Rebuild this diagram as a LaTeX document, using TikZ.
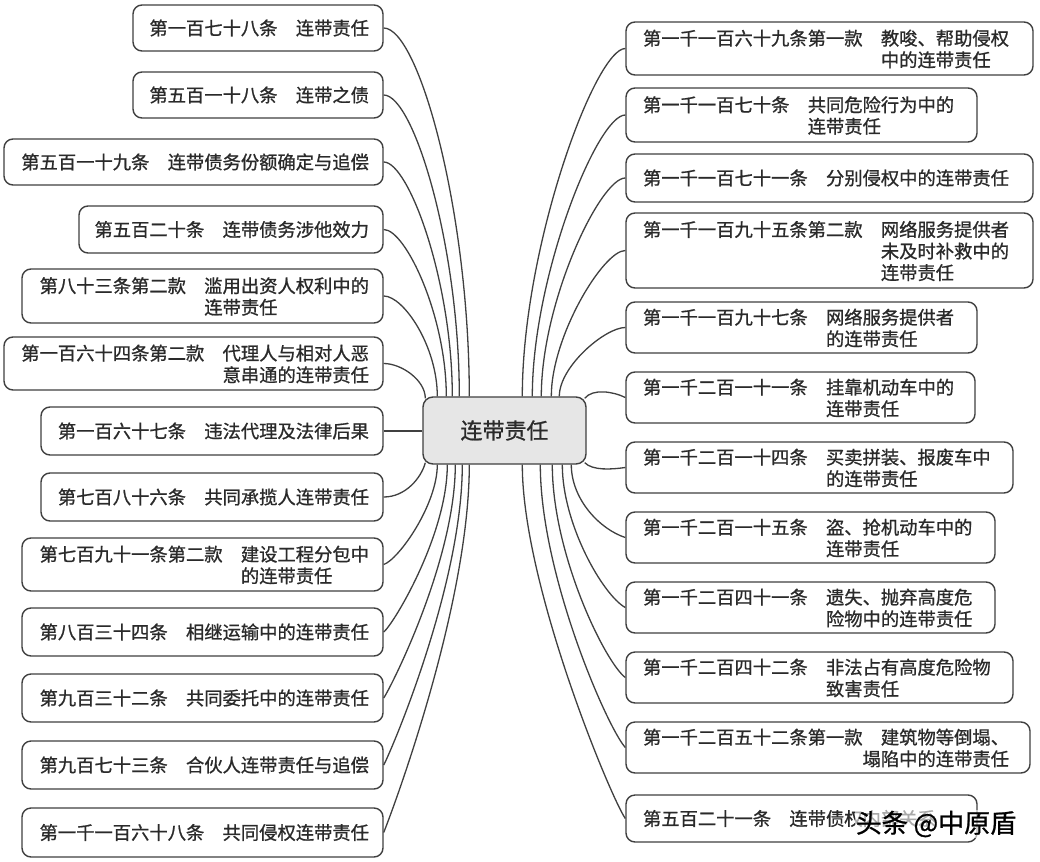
\documentclass[tikz,border=0pt]{standalone}
\usepackage{fontspec}
\setmainfont{Noto Sans CJK SC}[FakeBold=0.9]
\definecolor{txt}{HTML}{2A2A2A}
\definecolor{ln}{HTML}{404040}
\definecolor{cfill}{HTML}{E6E6E6}
\newcommand\rs[1]{\raisebox{-2.8pt}[\height][\depth]{#1}}
\newcommand\one[2]{#1\hspace{1em}#2}
\newcommand\two[3]{\rs{\begin{tabular}{@{}l@{\hspace{1em}}l@{}}#1&#2\\&#3\end{tabular}}}
\newcommand\three[4]{\rs{\begin{tabular}{@{}l@{\hspace{1em}}l@{}}#1&#2\\&#3\\&#4\end{tabular}}}
% left item box: name, x1, y1, x2, y2, content (text right aligned)
\newcommand\mkL[6]{%
  \pgfmathsetmacro\bw{#4-#2}\pgfmathsetmacro\bh{#5-#3}%
  \pgfmathsetmacro\bx{(#2+#4)/2}\pgfmathsetmacro\by{(#3+#5)/2}%
  \pgfmathsetmacro\tw{#4-#2-28}%
  \node[itembox, minimum width=\bw pt, minimum height=\bh pt] (#1) at (\bx,\by) {\makebox[\tw pt][r]{#6}};}
% right item box: text left aligned
\newcommand\mkR[6]{%
  \pgfmathsetmacro\bw{#4-#2}\pgfmathsetmacro\bh{#5-#3}%
  \pgfmathsetmacro\bx{(#2+#4)/2}\pgfmathsetmacro\by{(#3+#5)/2}%
  \pgfmathsetmacro\tw{#4-#2-34}%
  \node[itembox, minimum width=\bw pt, minimum height=\bh pt] (#1) at (\bx,\by) {\makebox[\tw pt][l]{#6}};}
\begin{document}
\begin{tikzpicture}[x=1pt,y=-1pt,
  itembox/.style={draw=ln, line width=1.4pt, rounded corners=9pt, fill=white, inner sep=0pt,
    text=txt, font=\fontsize{18.3}{20.5}\selectfont},
  centerbox/.style={draw=ln, line width=1.4pt, rounded corners=10pt, fill=cfill, inner sep=0pt,
    text=txt, font=\fontsize{22}{26}\selectfont},
  conn/.style={draw=ln, line width=1.3pt},
  wmark/.style={text=black, font=\fontsize{26}{30}\selectfont, fill=white, fill opacity=0.6, text opacity=1, inner sep=1pt}]
\useasboundingbox (0,0) rectangle (1040,861);
\fill[white] (0,0) rectangle (1040,861);

% centre
\node[centerbox, minimum width=163pt, minimum height=67pt] (c) at (504.5,430.5) {连带责任};

% left boxes
\mkL{L1}{133}{5}{383}{51}{\one{第一百七十八条}{连带责任}}
\mkL{L2}{133}{72}{383}{118}{\one{第五百一十八条}{连带之债}}
\mkL{L3}{4}{139}{383}{185}{\one{第五百一十九条}{连带债务份额确定与追偿}}
\mkL{L4}{79}{206}{383}{253}{\one{第五百二十条}{连带债务涉他效力}}
\mkL{L5}{22}{269}{383}{323}{\two{第八十三条第二款}{滥用出资人权利中的}{连带责任}}
\mkL{L6}{4}{337}{383}{390}{\two{第一百六十四条第二款}{代理人与相对人恶}{意串通的连带责任}}
\mkL{L7}{41}{407}{383}{455}{\one{第一百六十七条}{违法代理及法律后果}}
\mkL{L8}{41}{473}{383}{521}{\one{第七百八十六条}{共同承揽人连带责任}}
\mkL{L9}{22}{538}{383}{591}{\two{第七百九十一条第二款}{建设工程分包中}{的连带责任}}
\mkL{L10}{22}{608}{383}{656}{\one{第八百三十四条}{相继运输中的连带责任}}
\mkL{L11}{22}{674}{383}{722}{\one{第九百三十二条}{共同委托中的连带责任}}
\mkL{L12}{22}{741}{383}{789}{\one{第九百七十三条}{合伙人连带责任与追偿}}
\mkL{L13}{22}{808}{383}{857}{\one{第一千一百六十八条}{共同侵权连带责任}}

% right boxes
\mkR{R1}{626}{22}{1033}{75}{\two{第一千一百六十九条第一款}{教唆、帮助侵权}{中的连带责任}}
\mkR{R2}{626}{88}{977}{142}{\two{第一千一百七十条}{共同危险行为中的}{连带责任}}
\mkR{R3}{626}{154}{1033}{202}{\one{第一千一百七十一条}{分别侵权中的连带责任}}
\mkR{R4}{626}{213}{1033}{288}{\three{第一千一百九十五条第二款}{网络服务提供者}{未及时补救中的}{连带责任}}
\mkR{R5}{626}{302}{977}{353}{\two{第一千一百九十七条}{网络服务提供者}{的连带责任}}
\mkR{R6}{626}{372}{975}{423}{\two{第一千二百一十一条}{挂靠机动车中的}{连带责任}}
\mkR{R7}{626}{442}{1013}{493}{\two{第一千二百一十四条}{买卖拼装、报废车中}{的连带责任}}
\mkR{R8}{626}{512}{995}{563}{\two{第一千二百一十五条}{盗、抢机动车中的}{连带责任}}
\mkR{R9}{626}{582}{995}{633}{\two{第一千二百四十一条}{遗失、抛弃高度危}{险物中的连带责任}}
\mkR{R10}{626}{652}{1013}{703}{\two{第一千二百四十二条}{非法占有高度危险物}{致害责任}}
\mkR{R11}{626}{722}{1030}{773}{\rs{\begin{tabular}{@{}r@{}}第一千二百五十二条第一款\hspace{1em}建筑物等倒塌、\\塌陷中的连带责任\end{tabular}}}
\mkR{R12}{626}{795}{977}{842}{\one{第五百二十一条}{连带债权内部关系}}

% left connectors (top)
\draw[conn] (L1.east) .. controls +(35,0) and +(0,-185) .. ([xshift=47pt]c.north west);
\draw[conn] (L2.east) .. controls +(30,0) and +(0,-150) .. ([xshift=37pt]c.north west);
\draw[conn] (L3.east) .. controls +(25,0) and +(0,-115) .. ([xshift=30pt]c.north west);
\draw[conn] (L4.east) .. controls +(22,0) and +(0,-80) .. ([xshift=24pt]c.north west);
\draw[conn] (L5.east) .. controls +(20,0) and +(0,-50) .. ([xshift=15pt]c.north west);
\draw[conn] (L6.east) .. controls +(18,0) and +(0,-18) .. ([xshift=3pt,yshift=-2pt]c.north west);
\draw[conn] (L7.east) -- (L7.east -| c.west);
% left connectors (bottom)
\draw[conn] (L8.east) .. controls +(22,0) and +(-4,15) .. ([xshift=3pt,yshift=2pt]c.south west);
\draw[conn] (L9.east) .. controls +(15,-5) and +(0,40) .. ([xshift=15pt]c.south west);
\draw[conn] (L10.east) .. controls +(10,-8) and +(0,70) .. ([xshift=25pt]c.south west);
\draw[conn] (L11.east) .. controls +(8,-12) and +(0,95) .. ([xshift=33pt]c.south west);
\draw[conn] (L12.east) .. controls +(8,-15) and +(0,120) .. ([xshift=40pt]c.south west);
\draw[conn] (L13.east) .. controls +(10,-25) and +(0,140) .. ([xshift=47pt]c.south west);

% right connectors (top)
\draw[conn] ([xshift=100pt]c.north west) .. controls +(0,-150) and +(-30,0) .. (R1.west);
\draw[conn] ([xshift=110pt]c.north west) .. controls +(0,-120) and +(-28,0) .. (R2.west);
\draw[conn] ([xshift=119pt]c.north west) .. controls +(0,-95) and +(-25,0) .. (R3.west);
\draw[conn] ([xshift=129pt]c.north west) .. controls +(0,-60) and +(-22,0) .. (R4.west);
\draw[conn] ([xshift=137pt]c.north west) .. controls +(0,-30) and +(-20,0) .. (R5.west);
\draw[conn] ([xshift=-2pt,yshift=-2pt]c.north east) .. controls +(8,-10) and +(-12,-6) .. (R6.west);
% right connectors (bottom)
\draw[conn] ([xshift=-2pt,yshift=2pt]c.south east) .. controls +(8,8) and +(-14,2) .. (R7.west);
\draw[conn] ([xshift=149pt]c.south west) .. controls +(0,35) and +(-25,-8) .. (R8.west);
\draw[conn] ([xshift=140pt]c.south west) .. controls +(0,60) and +(-22,-12) .. (R9.west);
\draw[conn] ([xshift=130pt]c.south west) .. controls +(0,90) and +(-20,-15) .. (R10.west);
\draw[conn] ([xshift=118pt]c.south west) .. controls +(0,110) and +(-18,-20) .. (R11.west);
\draw[conn] ([xshift=100pt]c.south west) .. controls +(0,120) and +(-15,-22) .. (R12.west);

% watermark
\node[wmark] (wm) at (936,824) {头条 @中原盾};
\end{tikzpicture}
\end{document}
